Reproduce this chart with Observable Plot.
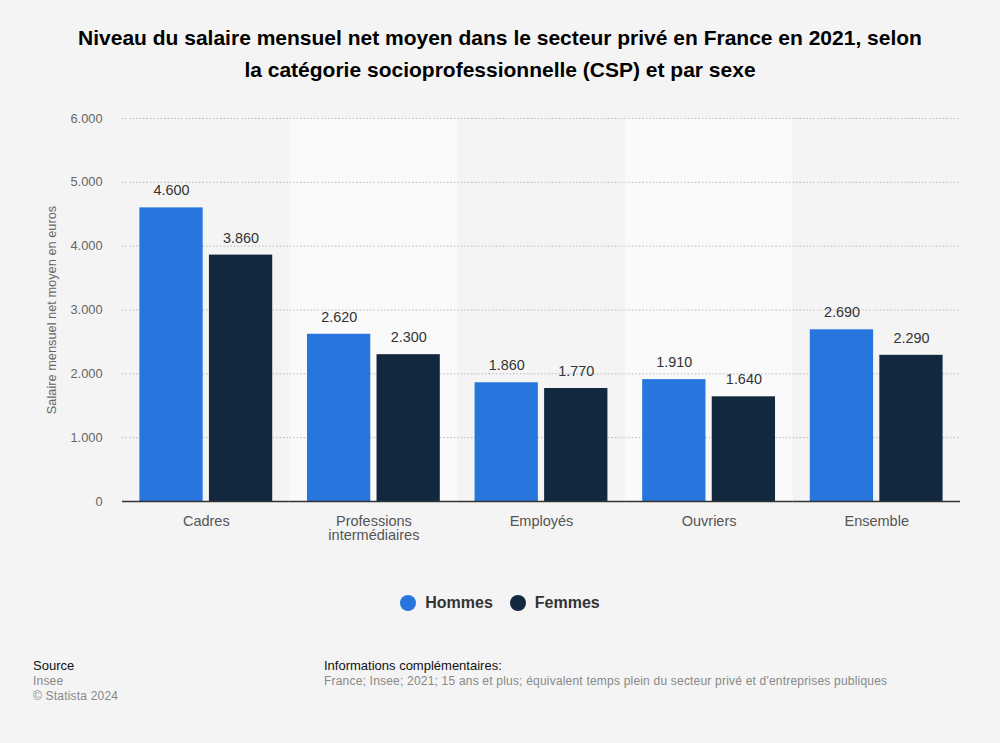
<!DOCTYPE html>
<html>
<head>
<meta charset="utf-8">
<script src="https://cdn.jsdelivr.net/npm/d3@7"></script>
<script src="https://cdn.jsdelivr.net/npm/@observablehq/plot@0.6"></script>
<style>
  html, body { margin: 0; padding: 0; background: #f4f4f4; }
  body { width: 1000px; height: 743px; position: relative; overflow: hidden; font-family: "Liberation Sans", Arial, sans-serif; }
  #title { position: absolute; top: 22px; left: 0; width: 1000px; text-align: center; font-weight: bold; font-size: 21px; line-height: 32px; color: #000; }
  #chart { position: absolute; top: 100px; left: 0; }
  #legend { position: absolute; top: 594px; left: 0; width: 1000px; display: flex; justify-content: center; gap: 17px; font-weight: bold; font-size: 16px; color: #333; }
  #legend .item { display: flex; align-items: center; }
  #legend .dot { width: 16px; height: 16px; border-radius: 50%; margin-right: 9px; }
  .foot { position: absolute; font-size: 12px; color: #888; line-height: 15px; letter-spacing: 0.2px; }
  .foot .h { font-size: 13px; color: #111; line-height: 17px; letter-spacing: 0; }
</style>
</head>
<body>
<div id="title">Niveau du salaire mensuel net moyen dans le secteur privé en France en 2021, selon<br>la catégorie socioprofessionnelle (CSP) et par sexe</div>
<div id="chart"></div>
<div id="legend"></div>
<div class="foot" style="left:33px; top:657px;"><div class="h">Source</div>Insee<br>© Statista 2024</div>
<div class="foot" style="left:324px; top:657px;"><div class="h">Informations complémentaires:</div>France; Insee; 2021; 15 ans et plus; équivalent temps plein du secteur privé et d'entreprises publiques</div>
<script>
const categories = ["Cadres", "Professions intermédiaires", "Employés", "Ouvriers", "Ensemble"];
const categoryLabels = ["Cadres", "Professions\nintermédiaires", "Employés", "Ouvriers", "Ensemble"];
const series = ["Hommes", "Femmes"];
const hommes = [4600, 2620, 1860, 1910, 2690];
const femmes = [3860, 2300, 1770, 1640, 2290];
const yTicks = [0, 1000, 2000, 3000, 4000, 5000, 6000];
const colors = ["#2876dd", "#12283f"];
const shaded = ["Professions intermédiaires", "Ouvriers"];

const data = [];
categories.forEach((c, i) => {
  data.push({cat: c, sex: "Hommes", value: hommes[i]});
  data.push({cat: c, sex: "Femmes", value: femmes[i]});
});
const yMin = yTicks[0], yMax = yTicks[yTicks.length - 1];
const bg = shaded.map(c => ({cat: c}));
const fmt = v => d3.format(",")(v).replace(/,/g, ".");
const labelOf = Object.fromEntries(categories.map((c, i) => [c, categoryLabels[i]]));

const plot = Plot.plot({
  width: 1000,
  height: 460,
  marginTop: 18,
  marginBottom: 59,
  marginLeft: 122,
  marginRight: 40,
  style: {background: "transparent", fontFamily: "Liberation Sans, Arial, sans-serif", fontSize: "11px"},
  fx: {domain: categories, padding: 0, round: false, label: null, tickSize: 0, tickPadding: 14, tickFormat: c => labelOf[c]},
  x: {domain: series, axis: null, round: false, paddingInner: 0.09, paddingOuter: 0.25},
  y: {domain: [yMin, yMax], ticks: yTicks, tickFormat: fmt, tickSize: 0, tickPadding: 20,
      label: "Salaire mensuel net moyen en euros", labelAnchor: "center", labelOffset: 76, labelArrow: false},
  color: {domain: series, range: colors},
  marks: [
    Plot.barY(bg, {fx: "cat", y1: () => yMin, y2: () => yMax, fill: "#fafafa"}),
    Plot.gridY(yTicks.filter(d => d > 0), {stroke: "#b8b8b8", strokeOpacity: 1, strokeDasharray: "1.5,2"}),
    Plot.barY(data, {fx: "cat", x: "sex", y: "value", fill: "sex"}),
    Plot.ruleY([0], {stroke: "#333", strokeWidth: 1.5}),
    Plot.text(data, {fx: "cat", x: "sex", y: "value", text: d => fmt(d.value), dy: -17, fontSize: 14.4, fill: "#333"})
  ]
});
document.getElementById("chart").appendChild(plot);

const fxg = plot.querySelector("g[aria-label='fx-axis tick label']");
if (fxg) { fxg.setAttribute("font-size", "14.5"); fxg.setAttribute("fill", "#555"); }
const yg = plot.querySelector("g[aria-label='y-axis tick label']");
if (yg) { yg.setAttribute("fill", "#666"); yg.setAttribute("font-size", "12.8"); }
const yl = plot.querySelector("g[aria-label='y-axis label']");
if (yl) { yl.setAttribute("fill", "#666"); yl.setAttribute("font-size", "12.8"); }

const legend = document.getElementById("legend");
series.forEach((s, i) => {
  const it = document.createElement("div");
  it.className = "item";
  it.innerHTML = `<span class="dot" style="background:${colors[i]}"></span>${s}`;
  legend.appendChild(it);
});
</script>
</body>
</html>
